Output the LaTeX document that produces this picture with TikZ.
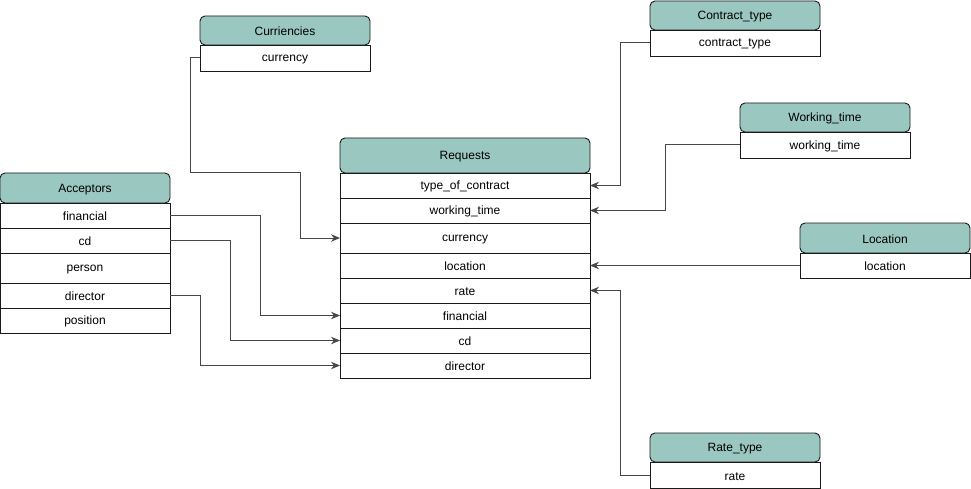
\documentclass[tikz,border=0pt]{standalone}
\usepackage{fontspec}
\setmainfont{Liberation Sans}
\usetikzlibrary{arrows.meta}
\definecolor{hdrc}{HTML}{9AC7BF}
\definecolor{edge}{HTML}{1A1A1A}
\newcommand{\tx}[1]{\raisebox{-1.2pt}[\height][\depth]{#1}}
\begin{document}
\begin{tikzpicture}[x=1pt,y=-1pt,
  every node/.style={inner sep=0pt,outer sep=0pt,anchor=north west,font=\fontsize{12}{14}\selectfont},
  hdr/.style n args={2}{draw=edge,line width=0.9pt,fill=hdrc,rounded corners=5pt,minimum width=#1,minimum height=#2},
  fld/.style n args={2}{draw=edge,line width=0.9pt,fill=white,minimum width=#1,minimum height=#2},
  conn/.style={draw=black!72,line width=1pt,-{Stealth[length=9pt,width=7.5pt]}}]
\useasboundingbox (0,0) rectangle (971,489);

% Curriencies
\node[hdr={170pt}{29pt}] (cur-h) at (200,16) {\tx{Curriencies}};
\node[fld={170pt}{26pt}] (cur-r) at (200,45) {\tx{currency}};

% Contract_type
\node[hdr={170pt}{29pt}] (ct-h) at (650,1) {\tx{Contract\_type}};
\node[fld={170pt}{26pt}] (ct-r) at (650,30) {\tx{contract\_type}};

% Working_time
\node[hdr={170pt}{29pt}] (wt-h) at (740,103) {\tx{Working\_time}};
\node[fld={170pt}{26pt}] (wt-r) at (740,132) {\tx{working\_time}};

% Location
\node[hdr={170pt}{30pt}] (loc-h) at (800,223) {\tx{Location}};
\node[fld={170pt}{25pt}] (loc-r) at (800,253) {\tx{location}};

% Rate_type
\node[hdr={170pt}{29pt}] (rt-h) at (650,433) {\tx{Rate\_type}};
\node[fld={170pt}{26pt}] (rt-r) at (650,462) {\tx{rate}};

% Acceptors
\node[hdr={170pt}{30pt}] (acc-h) at (0,173) {\tx{Acceptors}};
\node[fld={170pt}{25pt}] (acc-fin) at (0,203) {\tx{financial}};
\node[fld={170pt}{25pt}] (acc-cd) at (0,228) {\tx{cd}};
\node[fld={170pt}{30pt}] (acc-per) at (0,253) {\tx{person}};
\node[fld={170pt}{25pt}] (acc-dir) at (0,283) {\tx{director}};
\node[fld={170pt}{25pt}] (acc-pos) at (0,308) {\tx{position}};

% Requests
\node[hdr={250pt}{35pt}] (req-h) at (340,138) {\tx{Requests}};
\node[fld={250pt}{25pt}] (req-toc) at (340,173) {\tx{type\_of\_contract}};
\node[fld={250pt}{25pt}] (req-wt) at (340,198) {\tx{working\_time}};
\node[fld={250pt}{30pt}] (req-cur) at (340,223) {\tx{currency}};
\node[fld={250pt}{25pt}] (req-loc) at (340,253) {\tx{location}};
\node[fld={250pt}{25pt}] (req-rate) at (340,278) {\tx{rate}};
\node[fld={250pt}{25pt}] (req-fin) at (340,303) {\tx{financial}};
\node[fld={250pt}{25pt}] (req-cd) at (340,328) {\tx{cd}};
\node[fld={250pt}{25pt}] (req-dir) at (340,353) {\tx{director}};

% connectors
\draw[conn] (cur-r.west) -- ++(-10,0) -- ++(0,115) -- ++(110,0) |- (req-cur.west);
\draw[conn] (acc-fin.east) -- ++(90,0) |- (req-fin.west);
\draw[conn] (acc-cd.east) -- ++(60,0) |- (req-cd.west);
\draw[conn] (acc-dir.east) -- ++(30,0) |- (req-dir.west);
\draw[conn] (ct-r.west) -- ++(-30,0) |- (req-toc.east);
\draw[conn] (wt-r.west) -- ++(-75,0) |- (req-wt.east);
\draw[conn] (loc-r.west) -- (req-loc.east);
\draw[conn] (rt-r.west) -- ++(-30,0) |- (req-rate.east);
\end{tikzpicture}
\end{document}
